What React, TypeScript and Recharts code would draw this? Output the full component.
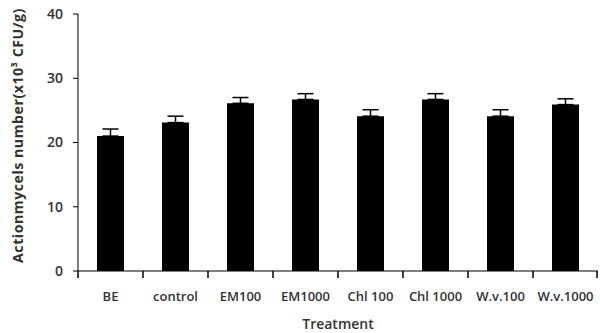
import React from "react";
import {
  BarChart,
  Bar,
  XAxis,
  YAxis,
  ErrorBar,
} from "recharts";

const treatments = ["BE", "control", "EM100", "EM1000", "Chl 100", "Chl 1000", "W.v.100", "W.v.1000"];
const counts = [21.0, 23.1, 26.1, 26.7, 24.1, 26.7, 24.1, 25.9];
const errors = [1.1, 1.0, 0.9, 0.9, 1.0, 0.9, 1.0, 0.9];
const yTicks = [0, 10, 20, 30, 40];

const data = treatments.map((t, i) => ({
  name: t,
  value: counts[i],
  // only the upper whisker is drawn
  err: [0, errors[i]],
}));

const font = "'Open Sans', 'Liberation Sans', sans-serif";
const BAND = 520 / treatments.length;

// Excel style: tick marks on the category boundaries, label in the middle
function renderTick(props: any) {
  const { x, y, payload, index } = props;
  const half = BAND / 2;
  return (
    <g key={"t" + index}>
      <path d={`M${x - half},${y - 21}v7`} stroke="#000" strokeWidth={1.5} />
      {index === treatments.length - 1 && (
        <path d={`M${x + half - 1},${y - 21}v7`} stroke="#000" strokeWidth={1.5} />
      )}
      <text
        x={x}
        y={y}
        dy="0.71em"
        textAnchor="middle"
        fontFamily={font}
        fontSize={13}
        fontWeight={600}
        fill="#333"
      >
        {payload.value}
      </text>
    </g>
  );
}

function renderYLabel(props: any) {
  const { viewBox } = props;
  const cx = 17;
  const cy = viewBox.y + viewBox.height / 2 - 7;
  return (
    <text
      x={cx}
      y={cy}
      transform={`rotate(-90, ${cx}, ${cy})`}
      textAnchor="middle"
      dominantBaseline="central"
      fontFamily={font}
      fontSize={14.2}
      fontWeight={700}
      letterSpacing={0.5}
      fill="#333"
    >
      Actionmycels  number(x10³ CFU/g)
    </text>
  );
}

export default function App() {
  return (
    <div style={{ position: "absolute", left: 0, top: 0, background: "#fff" }}>
      <BarChart
        width={600}
        height={333}
        data={data}
        margin={{ top: 14, right: 2, bottom: 0, left: 0 }}
        barSize={27}
      >
        <XAxis
          dataKey="name"
          height={62}
          axisLine={{ stroke: "#000" }}
          tickLine={false}
          tickSize={5}
          tickMargin={16}
          interval={0}
          tick={renderTick}
          label={{
            value: "Treatment",
            position: "insideBottom",
            offset: 4,
            style: { fontFamily: font, fontSize: 14, fontWeight: 600, fill: "#333" },
          }}
        />
        <YAxis
          width={78}
          domain={[0, 40]}
          ticks={yTicks}
          axisLine={{ stroke: "#000" }}
          tickLine={{ stroke: "#000" }}
          tickSize={5}
          tickMargin={10}
          tick={{ fontFamily: font, fontSize: 14, fontWeight: 600, fill: "#333" }}
          label={{ content: renderYLabel }}
        />
        <Bar dataKey="value" fill="#000" isAnimationActive={false}>
          <ErrorBar
            dataKey="err"
            direction="y"
            width={8}
            stroke="#000"
            strokeWidth={1.5}
            isAnimationActive={false}
          />
        </Bar>
      </BarChart>
    </div>
  );
}
